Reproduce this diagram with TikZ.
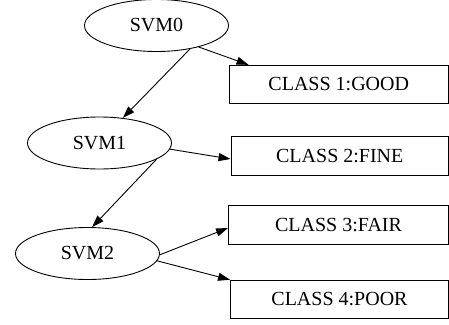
\documentclass[tikz,border=0pt]{standalone}
\usepackage{fontspec}
\setmainfont{Liberation Serif}
\usetikzlibrary{shapes.geometric,arrows.meta}
\begin{document}
\begin{tikzpicture}[x=1pt,y=-1pt,
  every node/.style={font=\fontsize{20}{24}\selectfont},
  svm/.style={ellipse,draw,line width=0.9pt,inner sep=0pt,minimum width=144pt,minimum height=52pt},
  cls/.style={rectangle,draw,line width=0.9pt,inner sep=0pt,minimum height=38.5pt},
  edge/.style={line width=0.9pt,-{Triangle[length=12pt,width=8pt]}}]
  \useasboundingbox (0,0) rectangle (449,324);
  % classifiers
  \node[svm] (s0) at (156.5,25.5) {SVM0};
  \node[svm] (s1) at (99.5,143) {SVM1};
  \node[svm] (s2) at (87.5,253.5) {SVM2};
  % class labels
  \node[cls,minimum width=219.5pt] (b1) at (338.75,84.5) {CLASS 1:GOOD};
  \node[cls,minimum width=217.5pt] (b2) at (339.75,156) {CLASS 2:FINE};
  \node[cls,minimum width=220pt] (b3) at (338.5,225) {CLASS 3:FAIR};
  \node[cls,minimum width=218pt] (b4) at (339.5,299.5) {CLASS 4:POOR};
  % decisions
  \draw[edge] (s0.-27) -- ([xshift=20pt]b1.north west);
  \draw[edge] (s0.-35) -- (s1.47);
  \draw[edge] (s1.-5) -- ([yshift=-3pt]b2.west);
  \draw[edge] (s1.-16) -- (s2.80);
  \draw[edge] (s2.-1) -- ([yshift=-3pt]b3.west);
  \draw[edge] (s2.-6) -- (b4.north west);
\end{tikzpicture}
\end{document}
